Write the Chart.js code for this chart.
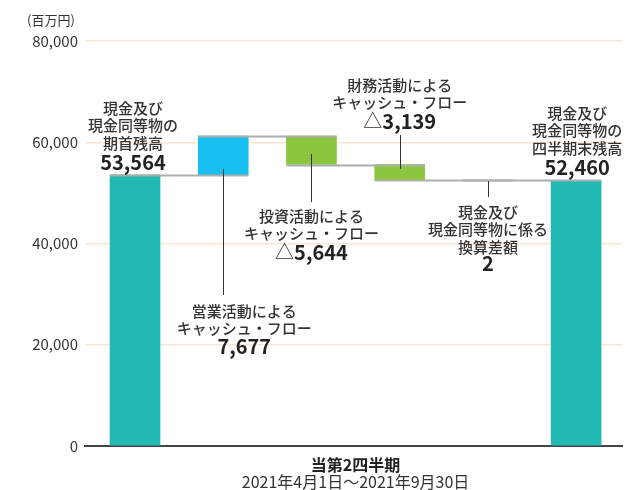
<!DOCTYPE html>
<html>
<head>
<meta charset="utf-8">
<script src="https://cdn.jsdelivr.net/npm/chart.js@4/dist/chart.umd.min.js"></script>
<style>
  html, body { margin: 0; padding: 0; background: #fff; }
  #wrap { width: 635px; height: 490px; position: relative; }
</style>
</head>
<body>
<div id="wrap"><canvas id="cf"></canvas></div>
<script>
const categories = ['期首残高', '営業活動', '投資活動', '財務活動', '換算差額', '四半期末残高']
const amounts = [53564, 7677, -5644, -3139, 2, 52460]
const isTotal = [true, false, false, false, false, true]
const barColors = ['#21b9b2', '#17c0f0', '#8cc63f', '#8cc63f', '#9aa6b2', '#21b9b2']
const yTicks = [0, 20000, 40000, 60000, 80000]
const labelLines = [
  ['現金及び', '現金同等物の', '期首残高'],
  ['営業活動による', 'キャッシュ・フロー'],
  ['投資活動による', 'キャッシュ・フロー'],
  ['財務活動による', 'キャッシュ・フロー'],
  ['現金及び', '現金同等物に係る', '換算差額'],
  ['現金及び', '現金同等物の', '四半期末残高']
]
const unitLabel = '(百万円)'
const periodTitle = '当第2四半期'
const periodDates = '2021年4月1日～2021年9月30日'

// running totals -> floating bars
const ranges = []
let run = 0
amounts.forEach((a, i) => {
  if (isTotal[i]) { ranges.push([0, a]); run = a } else { ranges.push([run, run + a]); run += a }
})
const levels = ranges.map((r) => r[1])

const FONT = '"Noto Sans CJK JP", "Noto Sans", sans-serif'

// label layout (pixels): first text line y, number y, x shift, leader line
const layout = [
  { dx: -2, y: 108, ny: 162, lead: null },
  { dx: 21, y: 311, ny: 346, lead: [169, 295] },
  { dx: 0, y: 216, ny: 252, lead: [154, 202] },
  { dx: 0, y: 85, ny: 121, lead: [135, 169] },
  { dx: 0, y: 212, ny: 263, lead: [181, 197] },
  { dx: 1, y: 113, ny: 167, lead: null }
]

const overlay = {
  id: 'overlay',
  afterDatasetsDraw (chart) {
    const ctx = chart.ctx
    const xs = chart.scales.x
    const ys = chart.scales.y
    const half = 25
    ctx.save()
    // connectors between bars
    ctx.strokeStyle = '#adadad'
    ctx.lineWidth = 2
    for (let i = 0; i < categories.length - 1; i++) {
      const y = Math.round(ys.getPixelForValue(levels[i])) + 0.5
      ctx.beginPath()
      ctx.moveTo(xs.getPixelForValue(i) - half, y)
      ctx.lineTo(xs.getPixelForValue(i + 1) + half, y)
      ctx.stroke()
    }
    // leader lines
    ctx.strokeStyle = '#333'
    ctx.lineWidth = 1
    layout.forEach((l, i) => {
      if (!l.lead) return
      const x = Math.round(xs.getPixelForValue(i)) + 0.5
      ctx.beginPath()
      ctx.moveTo(x, l.lead[0])
      ctx.lineTo(x, l.lead[1])
      ctx.stroke()
    })
    // labels
    ctx.textAlign = 'center'
    ctx.textBaseline = 'middle'
    layout.forEach((l, i) => {
      const cx = xs.getPixelForValue(i) + l.dx
      ctx.fillStyle = '#333'
      ctx.font = '500 15px ' + FONT
      labelLines[i].forEach((t, k) => ctx.fillText(t, cx, l.y + k * 17.5))
      const v = amounts[i]
      const s = Math.abs(v).toLocaleString('en-US')
      ctx.fillStyle = '#222'
      ctx.font = 'bold 20px ' + FONT
      const wn = ctx.measureText(s).width
      if (!isTotal[i] && v < 0) {
        ctx.font = '19px ' + FONT
        const wt = ctx.measureText('△').width
        const x0 = cx - (wn + wt) / 2
        ctx.textAlign = 'left'
        ctx.fillStyle = '#333'
        ctx.fillText('△', x0, l.ny)
        ctx.font = 'bold 20px ' + FONT
        ctx.fillStyle = '#222'
        ctx.fillText(s, x0 + wt, l.ny)
        ctx.textAlign = 'center'
      } else {
        ctx.fillText(s, cx, l.ny)
      }
    })
    // unit and period
    ctx.fillStyle = '#333'
    ctx.textAlign = 'left'
    ctx.font = '13px ' + FONT
    ctx.fillText(unitLabel, 27, 20)
    ctx.textAlign = 'center'
    const mid = (xs.getPixelForValue(0) + xs.getPixelForValue(5)) / 2
    ctx.fillStyle = '#222'
    ctx.font = 'bold 16px ' + FONT
    ctx.fillText(periodTitle, mid, 465)
    ctx.fillStyle = '#333'
    ctx.font = '16px ' + FONT
    ctx.fillText(periodDates, mid, 482)
    ctx.restore()
  }
}

new Chart(document.getElementById('cf').getContext('2d'), {
  type: 'bar',
  data: {
    datasets: [{
      data: ranges.map((r, i) => ({ x: i, y: r })),
      backgroundColor: barColors,
      barThickness: 50,
      borderWidth: 0
    }]
  },
  options: {
    responsive: true,
    maintainAspectRatio: false,
    animation: false,
    layout: { padding: { top: 41, right: 13, bottom: 44, left: 0 } },
    plugins: { legend: { display: false }, tooltip: { enabled: false } },
    scales: {
      x: {
        type: 'linear',
        min: -0.567,
        max: 5.52,
        offset: false,
        grid: { display: false },
        ticks: { display: false },
        border: { display: true, color: '#444', width: 2 },
        afterFit: (s) => { s.height = 0 }
      },
      y: {
        min: 0,
        max: 80000,
        afterFit: (s) => { s.width = 85 },
        afterBuildTicks: (s) => { s.ticks = yTicks.map(v => ({ value: v })) },
        grid: { color: '#fde6cf', lineWidth: 1.5, drawTicks: false },
        border: { display: false },
        ticks: {
          padding: 7,
          color: '#333',
          font: { family: FONT, size: 15 },
          callback: (v) => v.toLocaleString('en-US')
        }
      }
    }
  },
  plugins: [overlay]
})
</script>
</body>
</html>
